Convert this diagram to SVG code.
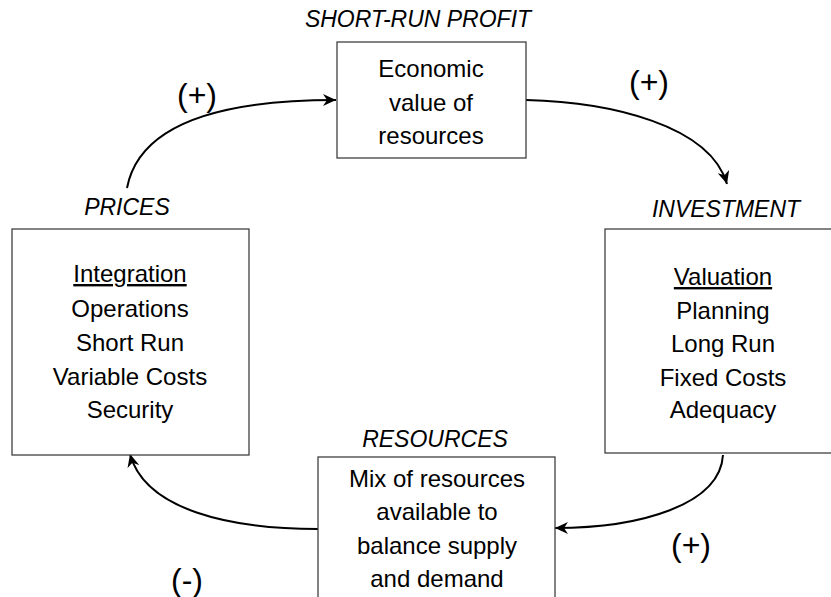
<svg xmlns="http://www.w3.org/2000/svg" width="831" height="597" viewBox="0 0 831 597">
<style>
.box{fill:#fff;stroke:#404040;stroke-width:1.3}
.t{font-family:"Liberation Sans",Arial,sans-serif;font-size:24px;fill:#000;text-anchor:middle}
.lbl{font-family:"Liberation Sans",Arial,sans-serif;font-size:23px;font-style:italic;fill:#000;text-anchor:middle}
.sign{font-family:"Liberation Sans",Arial,sans-serif;font-size:32px;fill:#000;text-anchor:middle}
.conn{fill:none;stroke:#000;stroke-width:2}
</style>
<defs>
<marker id="arr" markerUnits="userSpaceOnUse" markerWidth="14" markerHeight="12" refX="13" refY="6" orient="auto">
<path d="M0,0 L13,6 L0,12 L4,6 z" fill="#000"/>
</marker>
</defs>
<rect width="831" height="597" fill="#fff"/>
<g id="connectors">
<path class="conn" d="M127,188 C140,120 230,100 336,100" marker-end="url(#arr)"/>
<path class="conn" d="M526,100 C610,102 710,125 727,184" marker-end="url(#arr)"/>
<path class="conn" d="M723,455 C720,505 640,528 555,528" marker-end="url(#arr)"/>
<path class="conn" d="M318,529 C230,529 145,510 130,454" marker-end="url(#arr)"/>
</g>
<g id="signs">
<text class="sign" x="197" y="106">(+)</text>
<text class="sign" x="649" y="93">(+)</text>
<text class="sign" x="691" y="556">(+)</text>
<text class="sign" x="187" y="591">(-)</text>
</g>
<g id="profit">
<text class="lbl" x="418" y="27">SHORT-RUN PROFIT</text>
<rect class="box" x="337" y="42" width="189" height="116"/>
<text class="t" x="431" y="77">Economic</text>
<text class="t" x="431" y="111">value of</text>
<text class="t" x="431" y="144">resources</text>
</g>
<g id="prices">
<text class="lbl" x="127" y="215">PRICES</text>
<rect class="box" x="12" y="229" width="237" height="226"/>
<text class="t" x="130" y="282" text-decoration="underline">Integration</text>
<text class="t" x="130" y="317">Operations</text>
<text class="t" x="130" y="351">Short Run</text>
<text class="t" x="130" y="385">Variable Costs</text>
<text class="t" x="130" y="418">Security</text>
</g>
<g id="investment">
<text class="lbl" x="726" y="217">INVESTMENT</text>
<rect class="box" x="605" y="229" width="240" height="224"/>
<text class="t" x="723" y="285" text-decoration="underline">Valuation</text>
<text class="t" x="723" y="319">Planning</text>
<text class="t" x="723" y="352">Long Run</text>
<text class="t" x="723" y="386">Fixed Costs</text>
<text class="t" x="723" y="418">Adequacy</text>
</g>
<g id="resources">
<text class="lbl" x="435" y="447">RESOURCES</text>
<rect class="box" x="318" y="457" width="237" height="150"/>
<text class="t" x="437" y="487">Mix of resources</text>
<text class="t" x="437" y="520">available to</text>
<text class="t" x="437" y="554">balance supply</text>
<text class="t" x="437" y="587">and demand</text>
</g>
</svg>
